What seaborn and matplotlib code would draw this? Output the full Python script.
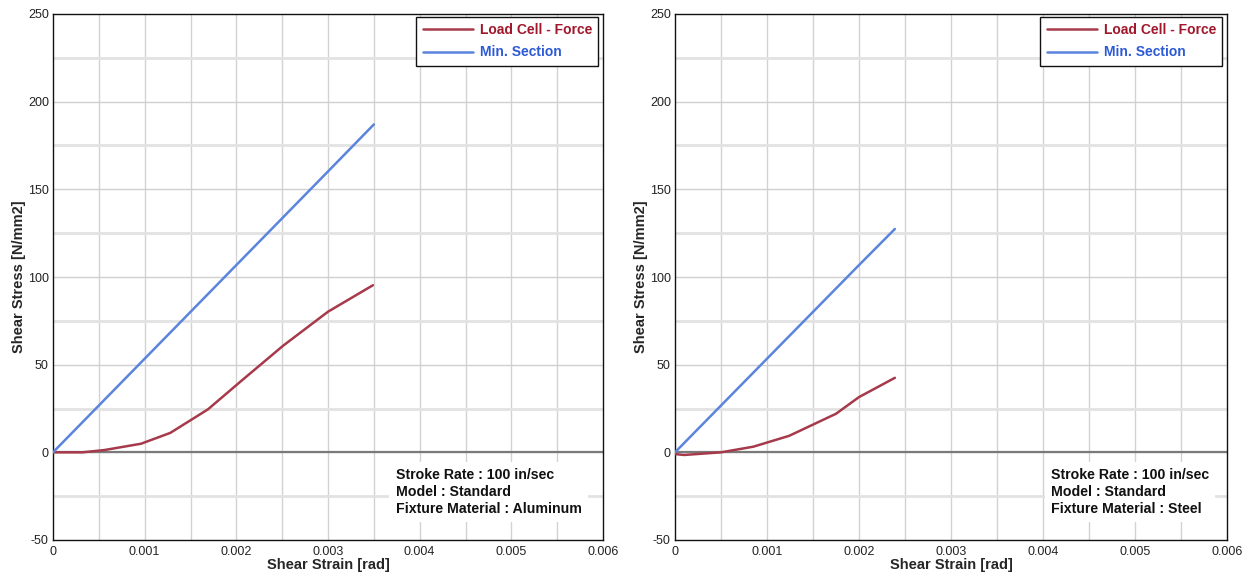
import matplotlib
matplotlib.use("Agg")
import matplotlib.pyplot as plt
from matplotlib.ticker import FixedLocator
from matplotlib.lines import Line2D
import seaborn as sns
import pandas as pd

sns.set_style("white")
plt.rcParams['font.family'] = ['Liberation Sans', 'DejaVu Sans']
plt.rcParams['axes.unicode_minus'] = False

# Aluminum fixture
al_min_strain = [0.0, 0.0005, 0.001, 0.0015, 0.002, 0.0025, 0.003, 0.0035]
al_min_stress = [0.0, 26.7, 53.4, 80.1, 106.8, 133.5, 160.2, 187.0]
al_load_strain = [0.0, 0.00032, 0.00056, 0.00096, 0.00128, 0.00169, 0.00206, 0.00251, 0.003, 0.00349]
al_load_stress = [0.0, 0.0, 1.3, 4.9, 11.1, 24.5, 41.0, 60.8, 80.2, 95.3]

# Steel fixture
st_min_strain = [0.0, 0.0005, 0.001, 0.0015, 0.002, 0.00239]
st_min_stress = [0.0, 26.7, 53.4, 80.1, 106.8, 127.4]
st_load_strain = [0.0, 0.0001, 0.0005, 0.00085, 0.00124, 0.00175, 0.002, 0.00239]
st_load_stress = [-1.0, -1.5, 0.0, 3.2, 9.4, 22.0, 31.5, 42.5]

series_names = ["Load Cell - Force", "Min. Section"]
line_colors = ["#a63a4b", "#5b84dd"]
text_colors = ["#a0182c", "#2d5ad6"]

panels = [
    (al_load_strain, al_load_stress, al_min_strain, al_min_stress,
     "Stroke Rate : 100 in/sec\nModel : Standard\nFixture Material : Aluminum", 0.623),
    (st_load_strain, st_load_stress, st_min_strain, st_min_stress,
     "Stroke Rate : 100 in/sec\nModel : Standard\nFixture Material : Steel", 0.681),
]

x_ticks = [0, 0.001, 0.002, 0.003, 0.004, 0.005, 0.006]
x_labels = ["0", "0.001", "0.002", "0.003", "0.004", "0.005", "0.006"]
y_ticks = [-50, 0, 50, 100, 150, 200, 250]

fig = plt.figure(figsize=(12.52, 5.78), dpi=100)
axes = [fig.add_axes([53 / 1252, 38 / 578, 550 / 1252, 526 / 578]),
        fig.add_axes([675 / 1252, 38 / 578, 552 / 1252, 526 / 578])]

for ax, (lx, ly, mx, my, note, note_x) in zip(axes, panels):
    df = pd.concat([
        pd.DataFrame({"strain": lx, "stress": ly, "series": series_names[0]}),
        pd.DataFrame({"strain": mx, "stress": my, "series": series_names[1]}),
    ], ignore_index=True)

    ax.set_xlim(0, 0.006)
    ax.set_ylim(-50, 250)

    # grid: every 0.0005 in x, every 25 in y
    for gx in [i * 0.0005 for i in range(1, 12)]:
        ax.axvline(gx, color="#d2d2d2", lw=1.0, zorder=0)
    for gy in range(-25, 250, 25):
        if gy % 50 == 0:
            ax.axhline(gy, color="#d0d0d0", lw=1.0, zorder=0)
        else:
            ax.axhline(gy, color="#e2e2e2", lw=2.0, zorder=0)
    ax.axhline(0, color="#7a7a7a", lw=1.6, zorder=1)

    sns.lineplot(data=df, x="strain", y="stress", hue="series",
                 palette=dict(zip(series_names, line_colors)),
                 hue_order=series_names, sort=False, estimator=None,
                 lw=1.8, ax=ax, legend=False, zorder=3)

    ax.xaxis.set_major_locator(FixedLocator(x_ticks))
    ax.set_xticklabels(x_labels)
    ax.yaxis.set_major_locator(FixedLocator(y_ticks))
    ax.tick_params(axis="both", which="major", direction="out", length=3,
                   width=0.8, labelsize=9, colors="#222222", pad=1)
    ax.tick_params(axis="y", pad=0)
    for sp in ax.spines.values():
        sp.set_color("#111111")
        sp.set_linewidth(1.0)

    ax.set_xlabel("Shear Strain [rad]", fontsize=10.5, fontweight="bold", labelpad=0)
    ax.set_ylabel("Shear Stress [N/mm2]", fontsize=10.5, fontweight="bold", labelpad=1)

    handles = [Line2D([0], [0], color=c, lw=1.8) for c in line_colors]
    leg = ax.legend(handles, series_names, loc="upper right",
                    bbox_to_anchor=(0.9964, 1.0), borderaxespad=0.2,
                    frameon=True, fancybox=False,
                    edgecolor="#111111", framealpha=1.0, handlelength=3.6,
                    handletextpad=0.5, borderpad=0.45, labelspacing=0.6,
                    prop={"size": 10, "weight": "bold"})
    leg.get_frame().set_linewidth(1.0)
    for t, c in zip(leg.get_texts(), text_colors):
        t.set_color(c)

    ax.text(note_x, 0.136, note, transform=ax.transAxes, ha="left", va="top",
            fontsize=10.2, fontweight="bold", color="#111111", linespacing=1.25,
            zorder=5,
            bbox=dict(boxstyle="square,pad=0.45", facecolor="white", edgecolor="none"))

fig.savefig("out.png", dpi=100)
